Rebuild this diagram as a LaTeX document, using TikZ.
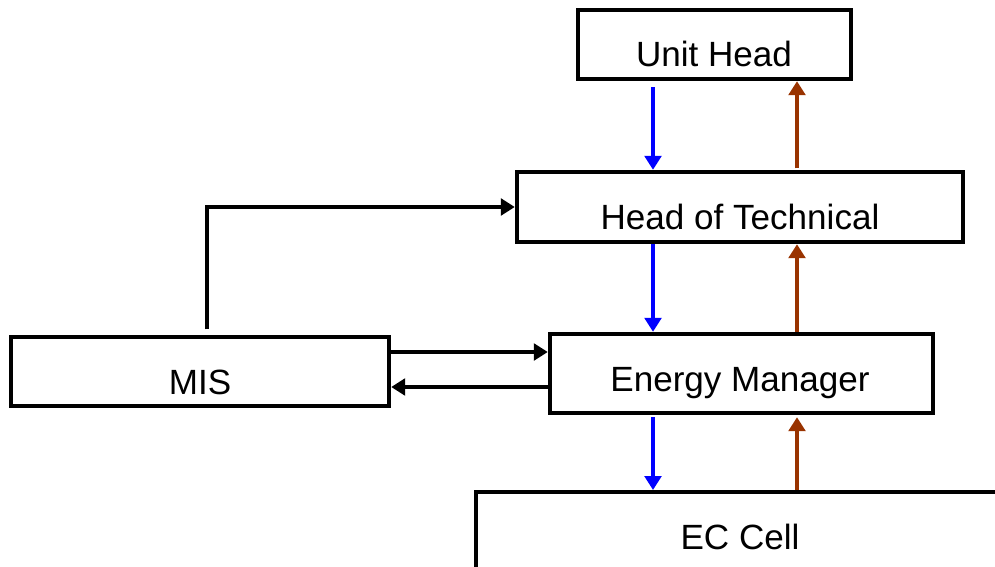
\documentclass[tikz,border=0pt]{standalone}
\usepackage{fontspec}
\setmainfont{Liberation Sans}
\usetikzlibrary{arrows.meta}
\definecolor{flowblue}{RGB}{0,0,255}
\definecolor{flowbrown}{RGB}{153,51,0}
\begin{document}
\begin{tikzpicture}[x=0.75pt,y=-0.75pt,
  box/.style={draw,line width=3.3pt,inner sep=0pt,fill=white},
  lbl/.style={anchor=base,inner sep=0pt,font=\fontsize{26.3}{30}\selectfont},
  conn/.style={line width=3.3pt,-{Triangle[length=10.5pt,width=12.5pt]}},
  down/.style={conn,draw=flowblue},
  up/.style={conn,draw=flowbrown}]
\useasboundingbox (0,0) rectangle (995,567);
\node[box,minimum width={273*0.75pt},minimum height={69*0.75pt}] (unit) at (714.5,44.5) {};
\node[box,minimum width={446*0.75pt},minimum height={70*0.75pt}] (hot) at (740,207) {};
\node[box,minimum width={383*0.75pt},minimum height={79*0.75pt}] (em) at (741.5,373.5) {};
\node[box,minimum width={378*0.75pt},minimum height={69*0.75pt}] (mis) at (200,371.5) {};
\coordinate (ecl) at (476,567);
\coordinate (ec) at (476,492);
\coordinate (ecr) at (995,492);
\draw[line width=3.3pt] (ecl) -- (ec) -- (ecr);
\node[lbl] (unitt) at (714,67) {Unit Head};
\node[lbl] (hott) at (740,229) {Head of Technical};
\node[lbl] (emt) at (740,391) {Energy Manager};
\node[lbl] (mist) at (200,394) {MIS};
\node[lbl] (ect) at (740,549) {EC Cell};
\coordinate (xb) at (653,0);
\coordinate (xr) at (797,0);
\coordinate (xm) at (207,0);
\coordinate (ya) at (0,352);
\coordinate (yb) at (0,387);
\draw[down,shorten <=4.5pt] (unit.south -| xb) -- (hot.north -| xb);
\draw[up,shorten <=1pt] (hot.north -| xr) -- (unit.south -| xr);
\draw[down] (hot.south -| xb) -- (em.north -| xb);
\draw[up] (em.north -| xr) -- (hot.south -| xr);
\draw[down,shorten <=1.5pt,shorten >=1.5pt] (em.south -| xb) -- (ec -| xb);
\draw[up,shorten <=1.5pt,shorten >=1.5pt] (ec -| xr) -- (em.south -| xr);
\draw[conn,shorten <=4pt] (mis.north -| xm) |- (hot.west);
\draw[conn] (mis.east |- ya) -- (em.west |- ya);
\draw[conn] (em.west |- yb) -- (mis.east |- yb);
\end{tikzpicture}
\end{document}
